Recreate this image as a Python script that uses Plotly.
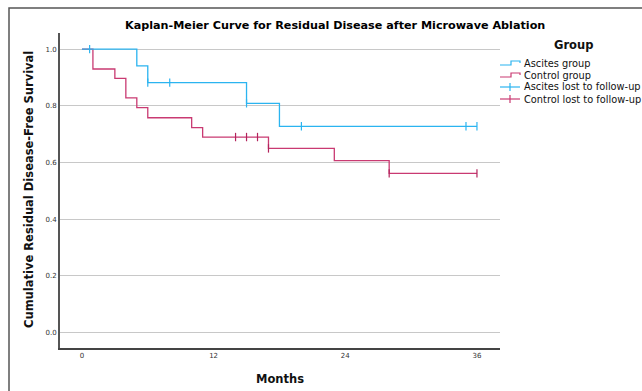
import plotly.graph_objects as go

# ---- data ----
asc_times = [0, 5, 6, 15, 18, 36]
asc_surv = [1.0, 0.941, 0.882, 0.809, 0.728, 0.728]
asc_cens_t = [0.7, 6, 8, 15, 20, 35, 36]
asc_cens_s = [1.0, 0.882, 0.882, 0.809, 0.728, 0.728, 0.728]

ctl_times = [0, 1, 3, 4, 5, 6, 10, 11, 17, 23, 28, 36]
ctl_surv = [1.0, 0.930, 0.897, 0.828, 0.794, 0.758, 0.723, 0.690, 0.650, 0.607, 0.562, 0.562]
ctl_cens_t = [14, 15, 16, 17, 28, 36]
ctl_cens_s = [0.690, 0.690, 0.690, 0.650, 0.562, 0.562]

x_ticks = [0, 12, 24, 36]
y_ticks = [0.0, 0.2, 0.4, 0.6, 0.8, 1.0]
legend_labels = ["Ascites group", "Control group", "Ascites lost to follow-up", "Control lost to follow-up"]

BLUE = "#2BB4F0"
RED = "#C93A72"
RED_DARK = "#B3235C"
FONT = "DejaVu Sans"

W, H = 642, 391
L, R, T, B = 60, 500, 33, 348


def px(x):
    return (x - L) / (R - L)


def py(y):
    return (B - y) / (B - T)


fig = go.Figure()
fig.add_trace(go.Scatter(x=ctl_times, y=ctl_surv, mode="lines", line=dict(color=RED, width=1.3, shape="hv"),
                         showlegend=False, hoverinfo="skip"))
fig.add_trace(go.Scatter(x=asc_times, y=asc_surv, mode="lines", line=dict(color=BLUE, width=1.3, shape="hv"),
                         showlegend=False, hoverinfo="skip"))
fig.add_trace(go.Scatter(x=ctl_cens_t, y=ctl_cens_s, mode="markers",
                         marker=dict(symbol="line-ns-open", size=6, color=RED_DARK,
                                     line=dict(color=RED_DARK, width=1.2)),
                         showlegend=False, hoverinfo="skip"))
fig.add_trace(go.Scatter(x=asc_cens_t, y=asc_cens_s, mode="markers",
                         marker=dict(symbol="line-ns-open", size=6, color=BLUE,
                                     line=dict(color=BLUE, width=1.2)),
                         showlegend=False, hoverinfo="skip"))

shapes = []
# outer frame
shapes.append(dict(type="rect", xref="paper", yref="paper", x0=px(9), y0=py(420), x1=px(700), y1=py(8),
                   line=dict(color="#555555", width=1.5), layer="below"))

annotations = []
annotations.append(dict(text="<b>Kaplan-Meier Curve for Residual Disease after Microwave Ablation</b>",
                        xref="paper", yref="paper", x=px(335), y=py(25), showarrow=False,
                        font=dict(family=FONT, size=11.2, color="#000000"), xanchor="center", yanchor="middle"))
annotations.append(dict(text="<b>Months</b>",
                        xref="paper", yref="paper", x=px(280), y=py(379), showarrow=False,
                        font=dict(family=FONT, size=11.5, color="#111111"), xanchor="center", yanchor="middle"))
annotations.append(dict(text="<b>Cumulative Residual Disease-Free Survival</b>",
                        xref="paper", yref="paper", x=px(29), y=py(190), showarrow=False, textangle=-90,
                        font=dict(family=FONT, size=11.5, color="#111111"), xanchor="center", yanchor="middle"))
annotations.append(dict(text="<b>Group</b>", xref="paper", yref="paper", x=px(573), y=py(45), showarrow=False,
                        font=dict(family=FONT, size=11.5, color="#111111"), xanchor="center", yanchor="middle"))

leg_y = [63, 75, 87, 99]
leg_col = [BLUE, RED, BLUE, RED]
for i, (lab, yy, col) in enumerate(zip(legend_labels, leg_y, leg_col)):
    annotations.append(dict(text=lab, xref="paper", yref="paper", x=px(522), y=py(yy), showarrow=False,
                            font=dict(family=FONT, size=9.8, color="#111111"), xanchor="left", yanchor="middle"))
    if i < 2:
        path = "M {} {} L {} {} L {} {} L {} {} L {} {}".format(
            px(500), py(yy + 2), px(511), py(yy + 2), px(511), py(yy - 2), px(520), py(yy - 2), px(520), py(yy))
        shapes.append(dict(type="path", xref="paper", yref="paper", path=path, line=dict(color=col, width=1.2)))
    else:
        shapes.append(dict(type="line", xref="paper", yref="paper", x0=px(500), x1=px(520), y0=py(yy), y1=py(yy),
                           line=dict(color=col, width=1.2)))
        shapes.append(dict(type="line", xref="paper", yref="paper", x0=px(510), x1=px(510), y0=py(yy - 4),
                           y1=py(yy + 4), line=dict(color=col, width=1.2)))

fig.update_layout(
    width=W, height=H,
    margin=dict(l=L, r=W - R, t=T, b=H - B, autoexpand=False),
    paper_bgcolor="white", plot_bgcolor="white",
    showlegend=False,
    shapes=shapes, annotations=annotations,
    font=dict(family=FONT, color="#222222"),
    xaxis=dict(range=[-2.0, 38.1], tickvals=x_ticks, ticktext=[str(v) for v in x_ticks],
               showgrid=False, zeroline=False, showline=True, linecolor="#444444", linewidth=1.5,
               ticks="", tickfont=dict(family=FONT, size=7, color="#333333"), automargin=False),
    yaxis=dict(range=[-0.054, 1.057], tickvals=y_ticks, ticktext=["%.1f" % v for v in y_ticks],
               showgrid=True, gridcolor="#C8C8C8", gridwidth=1.3, zeroline=False,
               showline=True, linecolor="#555555", linewidth=2,
               ticks="", tickfont=dict(family=FONT, size=7, color="#333333"), automargin=False),
)

fig.write_html("out.html")
